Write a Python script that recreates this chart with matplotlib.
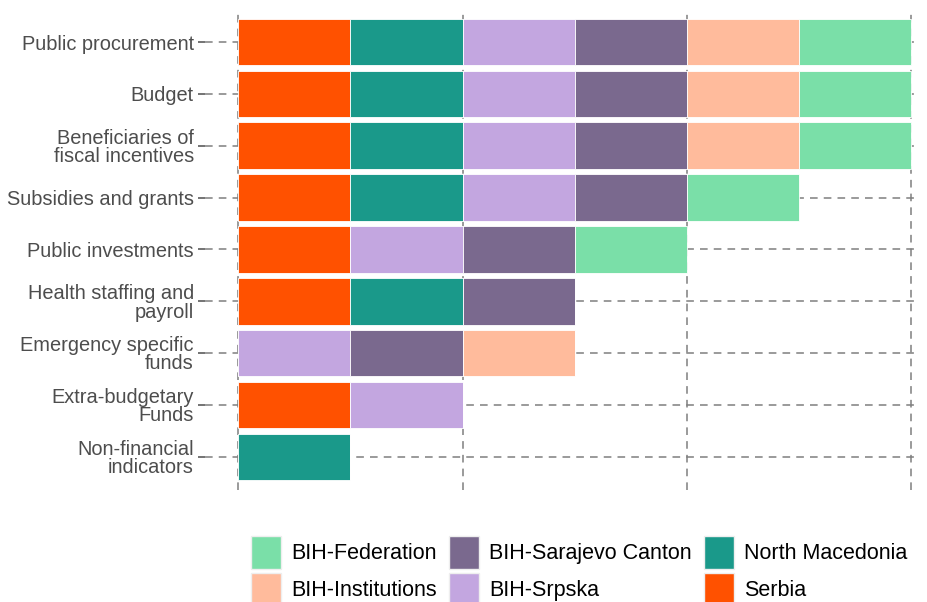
import numpy as np
import matplotlib.pyplot as plt
from matplotlib.patches import Patch

plt.rcParams['font.family'] = ['Liberation Sans', 'DejaVu Sans']

# categories, top to bottom
categories = ["Public procurement", "Budget", "Beneficiaries of\nfiscal incentives",
              "Subsidies and grants", "Public investments", "Health staffing and\npayroll",
              "Emergency specific\nfunds", "Extra-budgetary\nFunds", "Non-financial\nindicators"]

# 1 = jurisdiction reports this item (stacking order left to right)
serbia     = [1, 1, 1, 1, 1, 1, 0, 1, 0]
north_mac  = [1, 1, 1, 1, 0, 1, 0, 0, 1]
srpska     = [1, 1, 1, 1, 1, 0, 1, 1, 0]
sarajevo   = [1, 1, 1, 1, 1, 1, 1, 0, 0]
institutions = [1, 1, 1, 0, 0, 0, 1, 0, 0]
federation = [1, 1, 1, 1, 1, 0, 0, 0, 0]

series = [("Serbia", serbia, "#FF5100"),
          ("North Macedonia", north_mac, "#1A998A"),
          ("BIH-Srpska", srpska, "#C3A6E0"),
          ("BIH-Sarajevo Canton", sarajevo, "#7A698E"),
          ("BIH-Institutions", institutions, "#FFBB9C"),
          ("BIH-Federation", federation, "#7ADFA8")]

fig = plt.figure(figsize=(9.27, 6.02), dpi=100)
ax = fig.add_axes([0.221, 0.186, 0.771, 0.794])

y = np.arange(len(categories))
left = np.zeros(len(categories))
for name, vals, col in series:
    vals = np.array(vals, dtype=float)
    ax.barh(y, vals, left=left, height=0.9, color=col, edgecolor='white',
            linewidth=0.6, zorder=3)
    left += vals

grid_style = dict(color='#7f7f7f', linewidth=1.1, linestyle=(0, (5, 4)), zorder=1)
for xv in [0, 2, 4, 6]:
    ax.axvline(xv, **grid_style)
for yv in y:
    ax.axhline(yv, **grid_style)

ax.set_xlim(-0.3, 6.08)
ax.set_ylim(len(categories) - 0.36, -0.58)
ax.set_yticks(y)
ax.set_yticklabels(categories, fontsize=14.4, color='#4D4D4D', linespacing=0.95)
ax.set_xticks([])
ax.tick_params(axis='y', length=5, width=1.1, color='#4D4D4D', pad=3)
for s in ax.spines.values():
    s.set_visible(False)

order = ["BIH-Federation", "BIH-Institutions", "BIH-Sarajevo Canton",
         "BIH-Srpska", "North Macedonia", "Serbia"]
cmap = {n: c for n, _, c in series}
handles = [Patch(facecolor=cmap[n], edgecolor='#eeeeee', label=n) for n in order]
fig.legend(handles=handles, loc='center', bbox_to_anchor=(0.625, 0.052), ncol=3,
           frameon=False, fontsize=15.5, handlelength=1.38, handleheight=1.95,
           labelspacing=0.2, columnspacing=0.55, handletextpad=0.5,
           borderaxespad=0, borderpad=0)

plt.savefig('out.png', dpi=100)
